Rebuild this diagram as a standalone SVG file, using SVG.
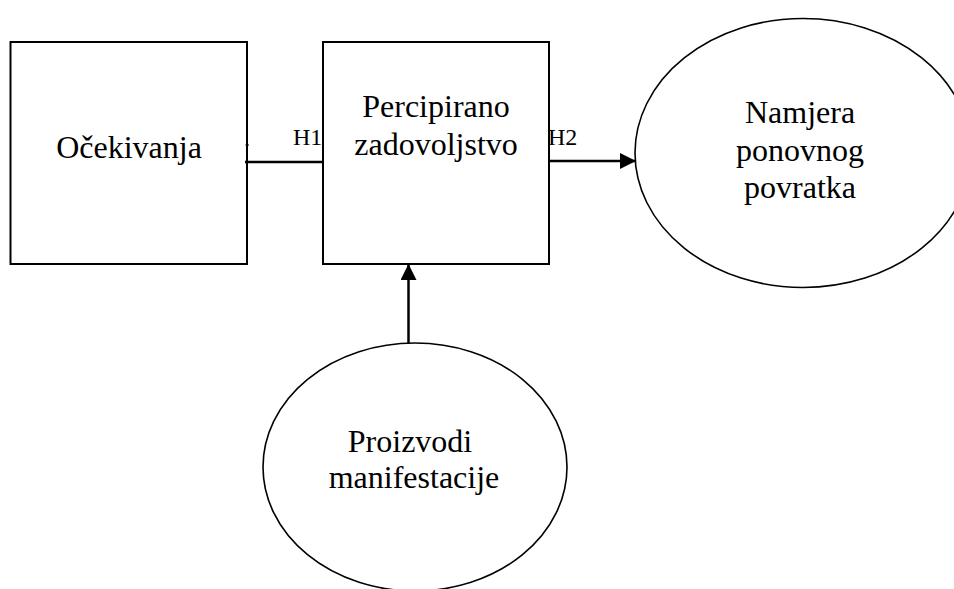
<svg xmlns="http://www.w3.org/2000/svg" width="954" height="589" viewBox="0 0 954 589">
<style>
.box{fill:#fff;stroke:#000;stroke-width:2}
.ell{fill:#fff;stroke:#000;stroke-width:1.6}
.t{font-size:32px;fill:#000;text-anchor:middle}
.lbl{font-size:24px;fill:#000}
.c{stroke:#000;stroke-width:2.5;fill:none}
</style>
<defs>
<marker id="ah" viewBox="0 0 16 16" refX="16" refY="8" markerWidth="16" markerHeight="16" markerUnits="userSpaceOnUse" orient="auto">
<path d="M0,0 L16,8 L0,16 Z" fill="#000"/>
</marker>
</defs>
<rect width="954" height="589" fill="#fff"/>
<g font-family="'Liberation Serif', 'Times New Roman', 'DejaVu Serif', serif">
<g id="node-ocekivanja">
<rect class="box" x="10.5" y="42" width="236.5" height="222"/>
<text class="t" x="129" y="158">Očekivanja</text>
</g>
<g id="node-zadovoljstvo">
<rect class="box" x="323" y="42" width="226" height="222"/>
<text class="t" x="436" y="117">Percipirano</text>
<text class="t" x="436" y="155">zadovoljstvo</text>
</g>
<g id="node-namjera">
<ellipse class="ell" cx="803" cy="153" rx="168" ry="134.5"/>
<text class="t" x="800" y="123">Namjera</text>
<text class="t" x="800" y="161">ponovnog</text>
<text class="t" x="800" y="198">povratka</text>
</g>
<g id="node-proizvodi">
<ellipse class="ell" cx="415" cy="467" rx="152" ry="124"/>
<text class="t" x="410" y="452">Proizvodi</text>
<text class="t" x="414" y="488">manifestacije</text>
</g>
<g id="connectors">
<line x1="245.5" y1="145" x2="249" y2="145" stroke="#000" stroke-width="1"/>
<line class="c" x1="245" y1="162" x2="323" y2="162"/>
<text class="lbl" x="293" y="145">H1</text>
<line class="c" x1="549" y1="161" x2="636" y2="161" marker-end="url(#ah)"/>
<text class="lbl" x="548" y="145">H2</text>
<line class="c" x1="408.5" y1="343" x2="408.5" y2="264" marker-end="url(#ah)"/>
</g>
</g>
</svg>
